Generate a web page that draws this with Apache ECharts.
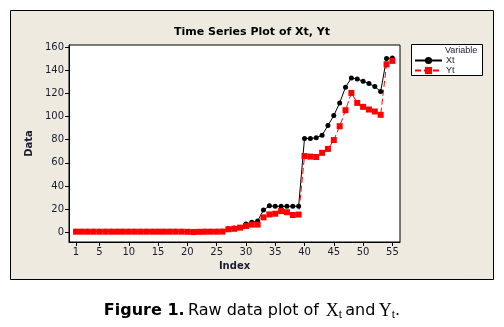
<!DOCTYPE html>
<html>
<head>
<meta charset="utf-8">
<script src="https://cdn.jsdelivr.net/npm/echarts@6/dist/echarts.min.js"></script>
<style>
html,body{margin:0;padding:0;background:#fff;}
#chart{width:504px;height:327px;}
</style>
</head>
<body>
<div id="chart"></div>
<script>
var indexValues = [];
for (var k = 1; k <= 55; k++) indexValues.push(k);

var xtValues = [0.8,0.8,0.8,0.8,0.8,0.8,0.8,0.8,0.8,0.8,0.8,0.8,0.8,0.8,0.8,0.8,0.8,0.8,0.8,0.6,0.3,0.6,0.8,0.8,0.8,0.9,
  3.1,3.7,4.2,7.1,8.6,9.7,19.2,22.8,22.4,22.4,22.4,22.4,22.5,
  81.0,81.0,81.6,83.8,92.2,100.8,111.7,125.3,133.3,132.4,130.4,128.4,125.9,121.5,150.0,150.5];
var ytValues = [0.5,0.5,0.5,0.5,0.5,0.5,0.5,0.5,0.5,0.5,0.5,0.5,0.5,0.5,0.5,0.5,0.5,0.5,0.5,0.4,0.2,0.4,0.5,0.5,0.5,0.6,
  2.6,3.0,4.0,5.4,6.6,6.6,12.9,15.4,16.0,18.3,17.3,14.9,15.3,
  65.8,65.3,65.0,68.6,72.0,79.6,91.6,105.4,120.3,111.7,108.3,106.0,104.3,101.4,145.0,148.0];
var xTickValues = [1,5,10,15,20,25,30,35,40,45,50,55];
var yTickValues = [0,20,40,60,80,100,120,140,160];

var chart = echarts.init(document.getElementById('chart'), null, {renderer:'canvas'});
var txt = '#1c1c30';
var font = 'DejaVu Sans';

function pairs(vals){ return vals.map(function(v,i){ return [indexValues[i], v]; }); }

var legendText = {fontFamily:'Liberation Sans', fontSize:9, color:txt, lineHeight:9, padding:[0,0,0,-1]};

chart.setOption({
  animation:false,
  backgroundColor:'#fff',
  graphic:[
    {type:'rect', z:-10, shape:{x:10.5,y:10.5,width:483,height:269}, style:{fill:'#EEEAE0', stroke:'#000', lineWidth:1}},
    {type:'rect', z:5, shape:{x:411.5,y:44.5,width:71,height:31}, style:{fill:'#fff', stroke:'#000', lineWidth:1}},
    {type:'text', z:6, left:445, top:46, style:{text:'Variable', font:'9px "Liberation Sans"', fill:txt}},
    {type:'text', z:6, left:'center', top:302, style:{
      text:'{b|Figure 1.} {n|Raw data plot of}  {s|X}{sub|t} {n|and} {s|Y}{sub|t}{n|.}',
      rich:{
        b:{font:'bold 16px "DejaVu Sans"', fill:'#000'},
        n:{font:'16px "DejaVu Sans"', fill:'#000'},
        s:{font:'18px "Liberation Serif"', fill:'#000'},
        sub:{font:'12px "Liberation Serif"', fill:'#000', verticalAlign:'bottom', padding:[8,0,0,0]}
      }
    }}
  ],
  title:{
    text:'Time Series Plot of Xt, Yt',
    left:'center', top:22,
    textStyle:{fontFamily:font, fontWeight:'bold', fontSize:11, color:'#000'}
  },
  legend:[
    {orient:'vertical', left:414, top:56, padding:0, itemWidth:27, itemHeight:9, z:7,
     textStyle:legendText, data:['Xt']},
    {orient:'vertical', left:414, top:66, padding:0, itemWidth:27, itemHeight:9, z:7,
     textStyle:legendText, data:['Yt']}
  ],
  grid:{left:69, right:104, top:45, bottom:85, show:true, backgroundColor:'#fff', borderColor:'#000', borderWidth:1},
  xAxis:{
    type:'value', min:-0.2, max:56.3,
    name:'Index', nameLocation:'middle', nameGap:16,
    nameTextStyle:{fontFamily:font, fontWeight:'bold', fontSize:10, color:txt},
    splitLine:{show:false},
    axisLine:{show:true, onZero:false, lineStyle:{color:'#000'}},
    axisTick:{show:true, length:4, customValues:xTickValues, lineStyle:{color:'#000'}},
    axisLabel:{customValues:xTickValues, fontFamily:font, fontSize:10, color:txt, margin:5}
  },
  yAxis:{
    type:'value', min:-8.4, max:161.7,
    name:'Data', nameLocation:'middle', nameGap:29,
    nameTextStyle:{fontFamily:font, fontWeight:'bold', fontSize:10, color:txt},
    splitLine:{show:false},
    axisLine:{show:true, onZero:false, lineStyle:{color:'#000'}},
    axisTick:{show:true, length:4, customValues:yTickValues, lineStyle:{color:'#000'}},
    axisLabel:{customValues:yTickValues, fontFamily:font, fontSize:10, color:txt, margin:5}
  },
  series:[
    {name:'Xt', type:'line', data:pairs(xtValues), symbol:'circle', symbolSize:5,
     itemStyle:{color:'#000'}, lineStyle:{color:'#000', width:1}},
    {name:'Yt', type:'line', data:pairs(ytValues), symbol:'rect', symbolSize:6,
     itemStyle:{color:'#FF0000'}, lineStyle:{color:'#FF0000', width:1, type:[6,3]}}
  ]
});
</script>
</body>
</html>
